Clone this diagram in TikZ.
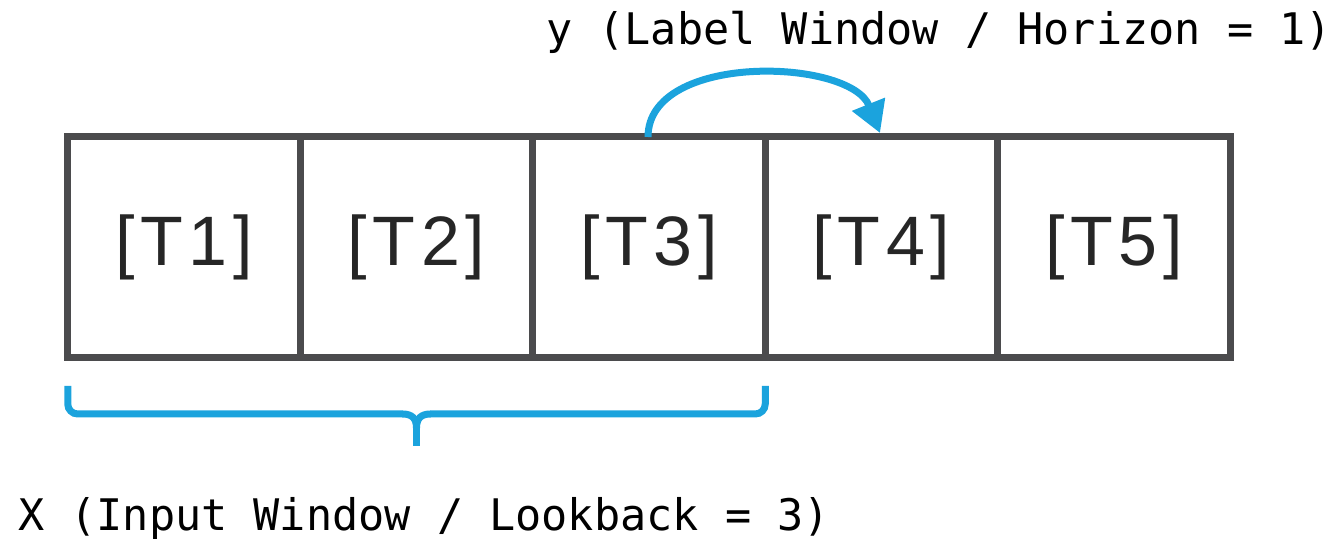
\documentclass[tikz,border=0pt]{standalone}
\usepackage{fontspec}
\setmainfont{Liberation Sans}
\newfontfamily\cellfont[LetterSpace=8]{Liberation Sans}
\newfontfamily\labelfont{DejaVu Sans Mono}
\usetikzlibrary{arrows.meta,calc}
\definecolor{framegray}{HTML}{4B4B4D}
\definecolor{accentblue}{HTML}{1BA3DD}
\begin{document}
\begin{tikzpicture}[x=1pt,y=1pt,
  cellbox/.style={draw=framegray,line width=7pt,rectangle,minimum width=232.5pt,
    minimum height=221pt,inner sep=0pt,outer sep=0pt,
    font=\cellfont\fontsize{70}{70}\selectfont,text=black!85},
  winlabel/.style={font=\labelfont\fontsize{43.5}{44}\selectfont,text=black,inner sep=0pt,anchor=base},
  bluestroke/.style={draw=accentblue,line width=7pt}]
\useasboundingbox (0,0) rectangle (1337,538);
% the five time steps
\foreach \i in {1,...,5}{
  \node[cellbox] (T\i) at ({184+232.5*(\i-1)},290.5) {[T\i]};
}
% labels
\node[winlabel] (ylab) at (939,493) {y (Label Window / Horizon = 1)};
\node[winlabel] (xlab) at (424,8) {X (Input Window / Lookback = 3)};
% horizon arrow from T3 to T4
\coordinate (arrStart) at ([xshift=-1pt]T3.north);
\coordinate (arrEnd) at ([xshift=-1.5pt,yshift=4pt]T4.north);
\draw[bluestroke,-{Triangle[length=31pt,width=34pt]}]
  (arrStart) .. controls ++(0,85) and ++(-30,75) .. (arrEnd);
% lookback brace under T1..T3
\coordinate (bL) at ($(T1.south west)+(0,-28)$);
\coordinate (bR) at ($(T3.south east)+(0,-28)$);
\coordinate (bM) at ($(bL)!0.5!(bR)+(0,-28)$);
\coordinate (bArmL) at ($(bM)+(-14,0)$);
\coordinate (bArmR) at ($(bM)+(14,0)$);
\coordinate (bJoin) at ($(bM)+(0,-14)$);
\coordinate (bTip) at ($(bM)+(0,-32)$);
\draw[bluestroke,rounded corners=10pt] (bL) |- ($(bArmL)+(0.5,0)$);
\draw[bluestroke,rounded corners=10pt] (bR) |- ($(bArmR)+(-0.5,0)$);
\draw[bluestroke] (bArmL) .. controls ($(bM)+(-5,0)$) and ($(bM)+(0,-4)$) .. (bJoin)
  .. controls ($(bM)+(0,-4)$) and ($(bM)+(5,0)$) .. (bArmR);
\draw[bluestroke] ($(bJoin)+(0,2)$) -- (bTip);
\end{tikzpicture}
\end{document}
